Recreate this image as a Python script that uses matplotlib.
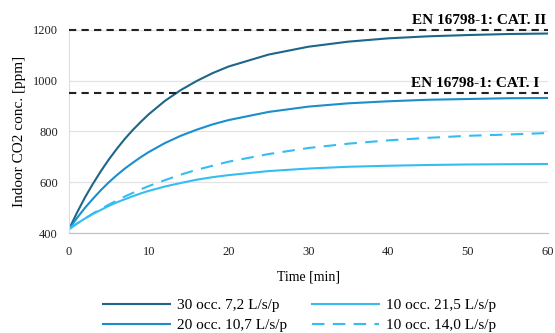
import matplotlib
matplotlib.use("Agg")
import matplotlib.pyplot as plt

time_min = [0, 1, 2, 3, 4, 5, 6, 7, 8, 9, 10, 12, 14, 16, 18, 20, 25, 30, 35, 40, 45, 50, 55, 60]
occ30_72 = [415, 480, 540, 594, 644, 690, 732, 771, 806, 838, 868, 920, 963, 999, 1030, 1056, 1103, 1134, 1154, 1167, 1175, 1180, 1184, 1186]
occ20_107 = [415, 459, 499, 535, 569, 600, 628, 654, 677, 699, 719, 754, 783, 807, 828, 845, 877, 898, 911, 919, 925, 928, 931, 932]
occ10_215 = [415, 437, 457, 475, 491, 507, 521, 533, 545, 556, 566, 583, 597, 610, 620, 628, 644, 654, 661, 665, 668, 670, 671, 672]
occ10_140 = [415, 437, 457, 477, 495, 512, 528, 544, 558, 572, 585, 608, 630, 649, 665, 681, 711, 735, 752, 765, 775, 783, 788, 794]
limits = [1200, 950]
limit_labels = ["EN 16798-1: CAT. II", "EN 16798-1: CAT. I"]
series_labels = ["30 occ. 7,2 L/s/p", "20 occ. 10,7 L/s/p", "10 occ. 21,5 L/s/p", "10 occ. 14,0 L/s/p"]

plt.rcParams['font.family'] = ['Liberation Serif', 'DejaVu Serif']

fig = plt.figure(figsize=(5.55, 3.33), dpi=100)
ax = fig.add_axes([0.1243, 0.3003, 0.8627, 0.6097])

c_dark = '#1d6689'
c_mid = '#1b8ecc'
c_light = '#35bdf2'

l1, = ax.plot(time_min, occ30_72, color=c_dark, lw=1.5, label=series_labels[0])
l2, = ax.plot(time_min, occ20_107, color=c_mid, lw=1.5, label=series_labels[1])
l3, = ax.plot(time_min, occ10_215, color=c_light, lw=1.5, label=series_labels[2])
l4, = ax.plot(time_min, occ10_140, color=c_light, lw=1.5, ls=(0, (6, 4)), label=series_labels[3])

for v in limits:
    ax.axhline(v, color='#222222', lw=1.5, ls=(0, (3.5, 2.5)), zorder=3, clip_on=False)

ax.text(59.8, 1212, limit_labels[0], ha='right', va='bottom', fontsize=11, fontweight='bold')
ax.text(58.9, 962, limit_labels[1], ha='right', va='bottom', fontsize=11, fontweight='bold')

ax.set_xlim(0, 60)
ax.set_ylim(400, 1200)
ax.set_xticks([0, 10, 20, 30, 40, 50, 60])
ax.set_yticks([400, 600, 800, 1000, 1200])
ax.grid(axis='y', color='#e3e3e3', lw=0.9, zorder=0)
ax.set_axisbelow(True)
for s in ['top', 'right']:
    ax.spines[s].set_visible(False)
ax.spines['left'].set_color('#dddddd')
ax.spines['bottom'].set_color('#bfbfbf')
ax.tick_params(axis='both', length=0, labelsize=9, colors='#222222')
ax.tick_params(axis='x', pad=9)
ax.tick_params(axis='y', pad=8)
ax.set_xlabel('Time [min]', fontsize=10, labelpad=9)
ax.set_ylabel('Indoor CO2 conc. [ppm]', fontsize=11, labelpad=5)

fig.legend(handles=[l1, l2, l3, l4], labels=series_labels, ncol=2, loc='center',
           bbox_to_anchor=(0.54, 0.053), frameon=False, fontsize=11,
           handlelength=4.4, columnspacing=1.6, handletextpad=0.45, labelspacing=0.45)

fig.savefig('out.png', dpi=100)
